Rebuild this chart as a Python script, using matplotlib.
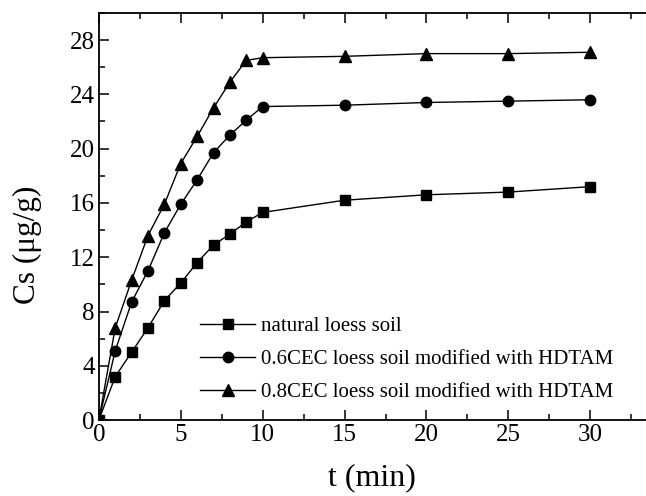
import matplotlib
matplotlib.use("Agg")
import matplotlib.pyplot as plt
from matplotlib.ticker import MultipleLocator

plt.rcParams['font.family'] = ['Liberation Serif', 'DejaVu Serif']
plt.rcParams['mathtext.fontset'] = 'stix'

# sampling times (min)
t = [0, 1, 2, 3, 4, 5, 6, 7, 8, 9, 10, 15, 20, 25, 30]

# adsorbed Cs (ug/g)
natural = [0, 3.2, 5.0, 6.8, 8.8, 10.1, 11.6, 12.9, 13.7, 14.6, 15.3, 16.2, 16.6, 16.8, 17.2]
cec06 = [0, 5.1, 8.7, 11.0, 13.8, 15.9, 17.7, 19.7, 21.0, 22.1, 23.1, 23.2, 23.4, 23.5, 23.6]
cec08 = [0, 6.8, 10.3, 13.6, 15.9, 18.9, 20.9, 23.0, 24.9, 26.5, 26.7, 26.8, 27.0, 27.0, 27.1]

labels = ["natural loess soil",
          "0.6CEC loess soil modified with HDTAM",
          "0.8CEC loess soil modified with HDTAM"]

fig = plt.figure(figsize=(6.46, 4.96), dpi=100)
ax = fig.add_axes([0.153, 0.153, 0.847, 0.821])

ax.plot(t, natural, "k-s", lw=1, ms=7, label=labels[0])
ax.plot(t, cec06, "k-o", lw=1, ms=7.5, label=labels[1])
ax.plot(t, cec08, "k-^", lw=1, ms=8, label=labels[2])

ax.set_xlim(0, 33.4)
ax.set_ylim(0, 30)
ax.xaxis.set_major_locator(MultipleLocator(5))
ax.xaxis.set_minor_locator(MultipleLocator(2.5))
ax.yaxis.set_major_locator(MultipleLocator(4))
ax.yaxis.set_minor_locator(MultipleLocator(2))

ax.spines['right'].set_visible(False)
for s in ('left', 'bottom', 'top'):
    ax.spines[s].set_linewidth(1.3)

ax.tick_params(which='both', direction='in', top=True, right=False,
               labelsize=18, width=1.1, pad=3)
ax.tick_params(which='major', length=7)
ax.tick_params(which='minor', length=4)

ax.set_xlabel("t (min)", fontsize=23, labelpad=12)
ax.set_ylabel("Cs (μg/g)", fontsize=22.5)
# label sits a bit below the axis centre in the original
ax.yaxis.set_label_coords(-0.104, 0.43)

ax.legend(loc='upper left', bbox_to_anchor=(0.17, 0.275), borderaxespad=0,
          frameon=False, fontsize=15, handlelength=2.65, handletextpad=0.25,
          labelspacing=0.65)

fig.savefig("out.png", dpi=100)
